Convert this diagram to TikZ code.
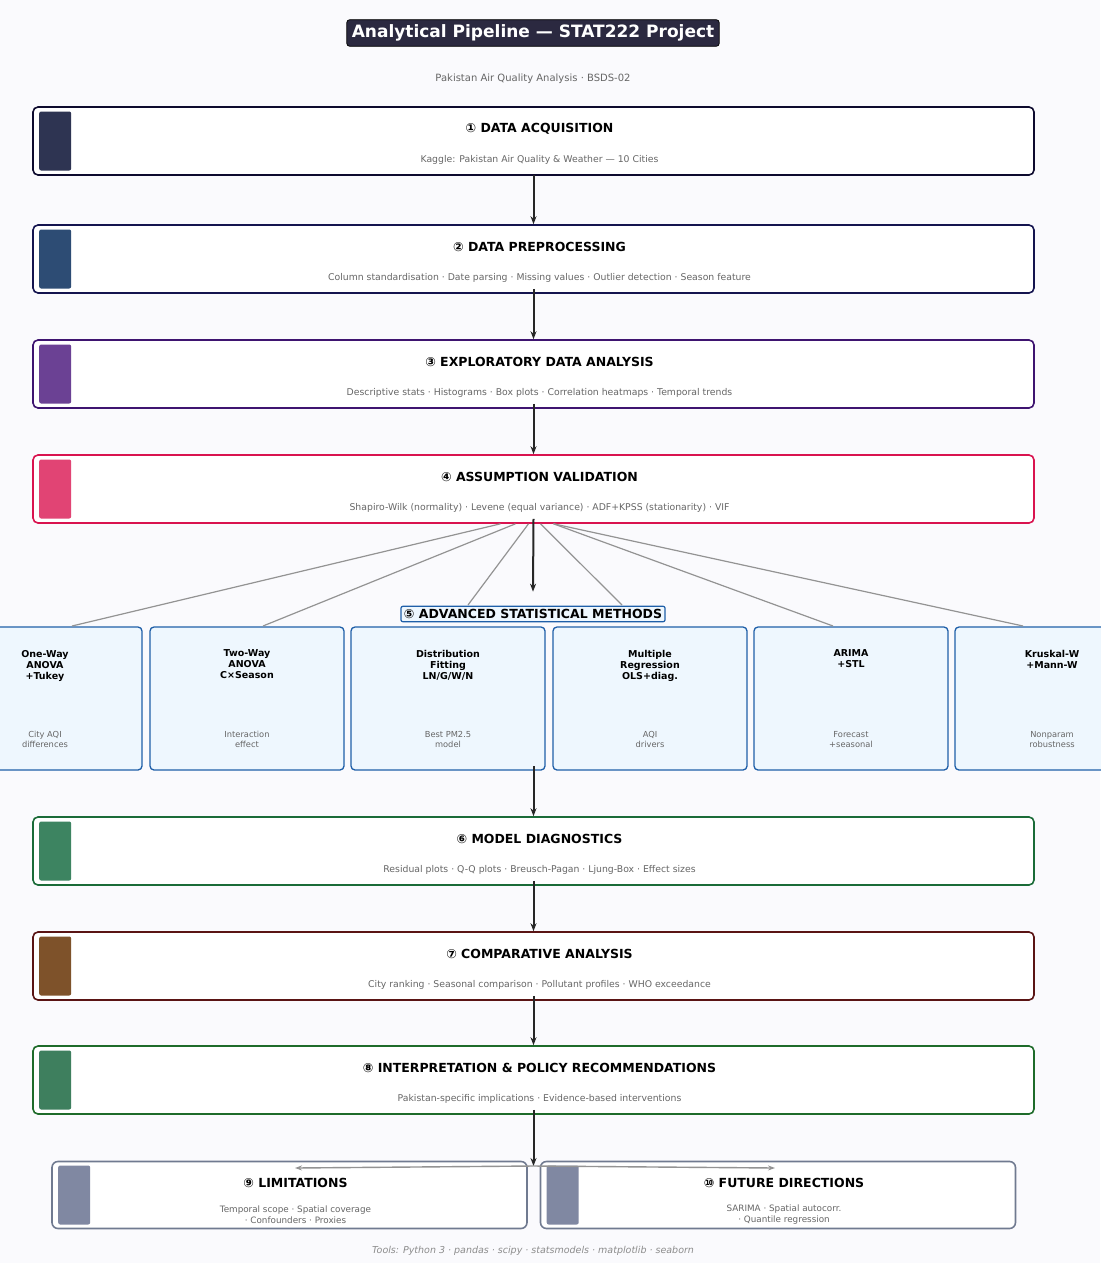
\documentclass[tikz,border=0pt]{standalone}
\usepackage{fontspec}
\setmainfont{DejaVu Sans}
\usetikzlibrary{arrows.meta, positioning}
\definecolor{bgcol}{HTML}{FAFAFD}
\definecolor{titlebg}{HTML}{2B2940}
\definecolor{c-acq}{HTML}{0D0A2E}\definecolor{f-acq}{HTML}{2E3452}
\definecolor{c-pre}{HTML}{14144F}\definecolor{f-pre}{HTML}{2D4C74}
\definecolor{c-eda}{HTML}{3E1470}\definecolor{f-eda}{HTML}{6B4194}
\definecolor{c-asv}{HTML}{D9134F}\definecolor{f-asv}{HTML}{E14474}
\definecolor{c-dia}{HTML}{1A6B38}\definecolor{f-dia}{HTML}{3D8461}
\definecolor{c-cmp}{HTML}{5A1414}\definecolor{f-cmp}{HTML}{7E522A}
\definecolor{c-int}{HTML}{1E6B2A}\definecolor{f-int}{HTML}{3E7F5E}
\definecolor{c-end}{HTML}{707A90}\definecolor{f-end}{HTML}{8088A2}
\definecolor{methblue}{HTML}{1F5FA8}
\definecolor{methfill}{HTML}{EEF7FE}
\definecolor{subgray}{HTML}{666666}
\tikzset{
    every picture/.style={line width=0.75pt},
    stage-box/.style={
        draw,
        fill=white,
        line width=1.6pt,
        rounded corners=5pt,
        minimum width=1001pt,
        minimum height=68pt,
    },
    end-box/.style={
        draw=c-end,
        fill=white,
        line width=1.6pt,
        rounded corners=6pt,
        minimum width=475pt,
        minimum height=67pt,
    },
    method-box/.style={
        draw=methblue,
        fill=methfill,
        line width=1.3pt,
        rounded corners=4pt,
        minimum width=194pt,
        minimum height=143pt,
    },
    accent-bar/.style={
        rounded corners=2pt,
        minimum width=32pt,
        minimum height=59pt,
        inner sep=0pt,
    },
    stage-title/.style={font=\fontsize{12.5}{15}\selectfont\bfseries},
    stage-sub/.style={font=\fontsize{9.3}{11}\selectfont, text=subgray},
    meth-title/.style={font=\fontsize{9.5}{11}\selectfont\bfseries, align=center},
    meth-sub/.style={font=\fontsize{8.3}{10}\selectfont, text=subgray, align=center},
    flow/.style={-{Stealth[length=8pt,width=6pt]}, line width=2pt, draw=black!85},
    fan/.style={draw=gray!85, line width=1.2pt},
}
\begin{document}
\begin{tikzpicture}[x=1pt,y=-1pt]
\fill[bgcol] (0,0) rectangle (1100,1263);
\useasboundingbox (0,0) rectangle (1100,1263);

% header
\node (head) [fill=titlebg, draw=black, rounded corners=3pt, text=white, font=\fontsize{17}{20}\selectfont\bfseries, inner sep=5pt] at (533,33) {Analytical Pipeline — STAT222 Project};
\node (subhead) [font=\fontsize{10}{12}\selectfont, text=subgray] at (533,79) {Pakistan Air Quality Analysis · BSDS-02};

% main stages
\node (s1) [stage-box, draw=c-acq] at (533.5,141) {};
\node (s2) [stage-box, draw=c-pre] at (533.5,259) {};
\node (s3) [stage-box, draw=c-eda] at (533.5,374) {};
\node (s4) [stage-box, draw=c-asv] at (533.5,489) {};
\node (s6) [stage-box, draw=c-dia] at (533.5,851) {};
\node (s7) [stage-box, draw=c-cmp] at (533.5,966) {};
\node (s8) [stage-box, draw=c-int] at (533.5,1080) {};

\foreach \s/\c in {s1/f-acq, s2/f-pre, s3/f-eda, s4/f-asv, s6/f-dia, s7/f-cmp, s8/f-int}
    \node [accent-bar, fill=\c] at ([xshift=23pt]\s.west) {};

\foreach \s/\t/\d in {
    s1/① DATA ACQUISITION/Kaggle: Pakistan Air Quality \& Weather — 10 Cities,
    s2/② DATA PREPROCESSING/Column standardisation · Date parsing · Missing values · Outlier detection · Season feature,
    s3/③ EXPLORATORY DATA ANALYSIS/Descriptive stats · Histograms · Box plots · Correlation heatmaps · Temporal trends,
    s4/④ ASSUMPTION VALIDATION/Shapiro-Wilk (normality) · Levene (equal variance) · ADF+KPSS (stationarity) · VIF,
    s6/⑥ MODEL DIAGNOSTICS/Residual plots · Q-Q plots · Breusch-Pagan · Ljung-Box · Effect sizes,
    s7/⑦ COMPARATIVE ANALYSIS/City ranking · Seasonal comparison · Pollutant profiles · WHO exceedance,
    s8/⑧ INTERPRETATION \& POLICY RECOMMENDATIONS/Pakistan-specific implications · Evidence-based interventions}{
    \node [stage-title] at ([xshift=6pt,yshift=12pt]\s.center) {\t};
    \node [stage-sub] at ([xshift=6pt,yshift=-19pt]\s.center) {\d};
}

% advanced methods
\node (m1) [method-box] at (45,698.5) {};
\node (m2) [method-box] at (247,698.5) {};
\node (m3) [method-box] at (448,698.5) {};
\node (m4) [method-box] at (650,698.5) {};
\node (m5) [method-box] at (851,698.5) {};
\node (m6) [method-box] at (1052,698.5) {};

% fan-out lines
\coordinate (f1) at (72,626);
\coordinate (f2) at (263,626);
\coordinate (f3) at (468,605);
\coordinate (f4) at (622,605);
\coordinate (f5) at (833,626);
\coordinate (f6) at (1023,626);
\draw[fan] ([xshift=-33pt]s4.south) -- (f1);
\draw[fan] ([xshift=-18pt]s4.south) -- (f2);
\draw[fan] ([xshift=-5pt]s4.south) -- (f3);
\draw[fan] ([xshift=7pt]s4.south) -- (f4);
\draw[fan] ([xshift=20pt]s4.south) -- (f5);
\draw[fan] ([xshift=20pt]s4.south) -- (f6);

\node (adv) [draw=methblue, fill=methfill, rounded corners=2pt, line width=1.2pt, inner sep=3pt, font=\fontsize{12.5}{14}\selectfont\bfseries] at (533,614) {⑤ ADVANCED STATISTICAL METHODS};

\foreach \m/\t/\d in {
    m1/{One-Way\\ANOVA\\+Tukey}/{City AQI\\differences},
    m2/{Two-Way\\ANOVA\\C×Season}/{Interaction\\effect},
    m3/{Distribution\\Fitting\\LN/G/W/N}/{Best PM2.5\\model},
    m4/{Multiple\\Regression\\OLS+diag.}/{AQI\\drivers},
    m5/{ARIMA\\+STL}/{Forecast\\+seasonal},
    m6/{Kruskal-W\\+Mann-W}/{Nonparam\\robustness}}{
    \node [meth-title, anchor=north] at ([yshift=-20pt]\m.north) {\t};
    \node [meth-sub] at ([yshift=-41pt]\m.center) {\d};
}

% flow arrows
\draw[flow] ([yshift=1pt]s1.south) -- (s2.north);
\draw[flow] ([yshift=5pt]s2.south) -- (s3.north);
\draw[flow] ([yshift=5pt]s3.south) -- (s4.north);
\draw[flow] ([yshift=5pt]s4.south) -- ([yshift=14pt]adv.north);
\coordinate (mbot) at (533.5,766);
\draw[flow] (mbot) -- (s6.north);
\draw[flow] ([yshift=5pt]s6.south) -- (s7.north);
\draw[flow] ([yshift=5pt]s7.south) -- (s8.north);

% end boxes
\node (s9) [end-box] at (289.5,1195) {};
\node (s10) [end-box] at (778,1195) {};
\foreach \s in {s9, s10}
    \node [accent-bar, fill=f-end] at ([xshift=23pt]\s.west) {};
\node [stage-title] at ([xshift=6pt,yshift=12pt]s9.center) {⑨ LIMITATIONS};
\node [stage-sub, align=center, font=\fontsize{8.8}{11}\selectfont] at ([xshift=6pt,yshift=-20pt]s9.center) {Temporal scope · Spatial coverage\\· Confounders · Proxies};
\node [stage-title] at ([xshift=6pt,yshift=12pt]s10.center) {⑩ FUTURE DIRECTIONS};
\node [stage-sub, align=center, font=\fontsize{8.8}{11}\selectfont] at ([xshift=6pt,yshift=-20pt]s10.center) {SARIMA · Spatial autocorr.\\· Quantile regression};

\coordinate (split) at (533.5,1166);
\draw[flow] ([yshift=5pt]s8.south) -- (split);
\draw[fan, -{Stealth[length=7pt,width=5pt]}, line width=1.4pt] (split) -- (295,1168);
\draw[fan, -{Stealth[length=7pt,width=5pt]}, line width=1.4pt] (split) -- (775,1168);

% footer
\node (foot) [font=\fontsize{9.5}{11}\selectfont\itshape, text=gray!90] at (533,1251) {Tools: Python 3 · pandas · scipy · statsmodels · matplotlib · seaborn};
\end{tikzpicture}
\end{document}
